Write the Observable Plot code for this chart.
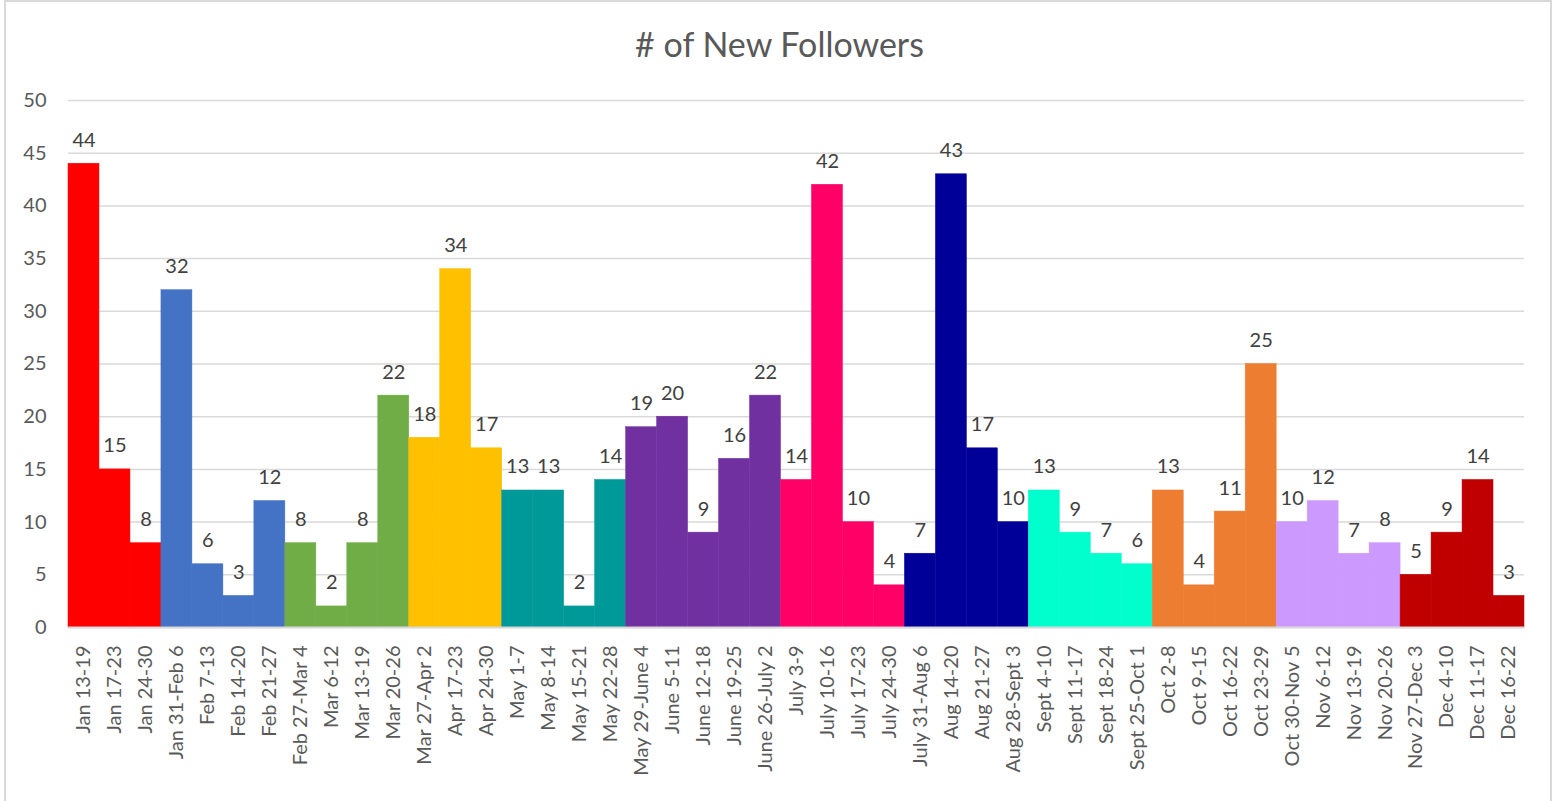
<!DOCTYPE html>
<html>
<head>
<meta charset="utf-8">
<script src="https://cdn.jsdelivr.net/npm/d3@7"></script>
<script src="https://cdn.jsdelivr.net/npm/@observablehq/plot@0.6"></script>
<style>
  html, body { margin: 0; padding: 0; background: #fff; overflow: hidden; }
  #frame { position: absolute; left: 4px; top: 0px; width: 1548px; height: 820px; border: 2px solid #d9d9d9; box-sizing: border-box; }
  #title { position: absolute; left: 0; top: 0; width: 1559px; height: 88px; text-align: center; font-family: Lato, sans-serif; font-size: 34px; color: #595959; line-height: 88px; }
  #chart { position: absolute; left: 0; top: 70px; }
</style>
</head>
<body>
<div id="frame"></div>
<div id="title"># of New Followers</div>
<div id="chart"></div>
<script>
const weeks = [
  "Jan 13-19","Jan 17-23","Jan 24-30",
  "Jan 31-Feb 6","Feb 7-13","Feb 14-20","Feb 21-27",
  "Feb 27-Mar 4","Mar 6-12","Mar 13-19","Mar 20-26",
  "Mar 27-Apr 2","Apr 17-23","Apr 24-30",
  "May 1-7","May 8-14","May 15-21","May 22-28",
  "May 29-June 4","June 5-11","June 12-18","June 19-25","June 26-July 2",
  "July 3-9","July 10-16","July 17-23","July 24-30",
  "July 31-Aug 6","Aug 14-20","Aug 21-27","Aug 28-Sept 3",
  "Sept 4-10","Sept 11-17","Sept 18-24","Sept 25-Oct 1",
  "Oct 2-8","Oct 9-15","Oct 16-22","Oct 23-29",
  "Oct 30-Nov 5","Nov 6-12","Nov 13-19","Nov 20-26",
  "Nov 27-Dec 3","Dec 4-10","Dec 11-17","Dec 16-22"
];
const followers = [
  44,15,8,
  32,6,3,12,
  8,2,8,22,
  18,34,17,
  13,13,2,14,
  19,20,9,16,22,
  14,42,10,4,
  7,43,17,10,
  13,9,7,6,
  13,4,11,25,
  10,12,7,8,
  5,9,14,3
];
const months = [
  "Jan","Jan","Jan",
  "Feb","Feb","Feb","Feb",
  "Mar","Mar","Mar","Mar",
  "Apr","Apr","Apr",
  "May","May","May","May",
  "Jun","Jun","Jun","Jun","Jun",
  "Jul","Jul","Jul","Jul",
  "Aug","Aug","Aug","Aug",
  "Sep","Sep","Sep","Sep",
  "Oct","Oct","Oct","Oct",
  "Nov","Nov","Nov","Nov",
  "Dec","Dec","Dec","Dec"
];
const monthNames = ["Jan","Feb","Mar","Apr","May","Jun","Jul","Aug","Sep","Oct","Nov","Dec"];
const monthColors = ["#FF0000","#4472C4","#70AD47","#FFC000","#009999","#7030A0","#FF0066","#000099","#00FFCC","#ED7D31","#CC99FF","#C00000"];
const yTicks = [0,5,10,15,20,25,30,35,40,45,50];

const data = weeks.map((w, i) => ({week: w, value: followers[i], month: months[i]}));

const chart = Plot.plot({
  width: 1559,
  height: 731,
  marginTop: 30,
  marginBottom: 174,
  marginLeft: 68,
  marginRight: 35,
  style: {fontFamily: "Lato, sans-serif", fontSize: "20px", color: "#595959", background: "transparent"},
  x: {domain: weeks, padding: 0, label: null, tickSize: 0, tickPadding: 18, tickRotate: -90},
  y: {domain: [0, 50], ticks: yTicks, label: null, tickSize: 0, tickPadding: 22},
  color: {domain: monthNames, range: monthColors},
  marks: [
    Plot.gridY(yTicks, {stroke: "#d9d9d9", strokeOpacity: 1, strokeWidth: 1.5}),
    Plot.barY(data, {x: "week", y: "value", fill: "month", stroke: "month", strokeWidth: 0.5, insetLeft: 0, insetRight: 0}),
    Plot.ruleY([0], {stroke: "#d9d9d9", strokeWidth: 2}),
    Plot.text(data, {x: "week", y: "value", text: d => String(d.value), lineAnchor: "bottom", dy: -17, fill: "#404040", fontSize: 20})
  ]
});
document.getElementById("chart").appendChild(chart);
</script>
</body>
</html>
